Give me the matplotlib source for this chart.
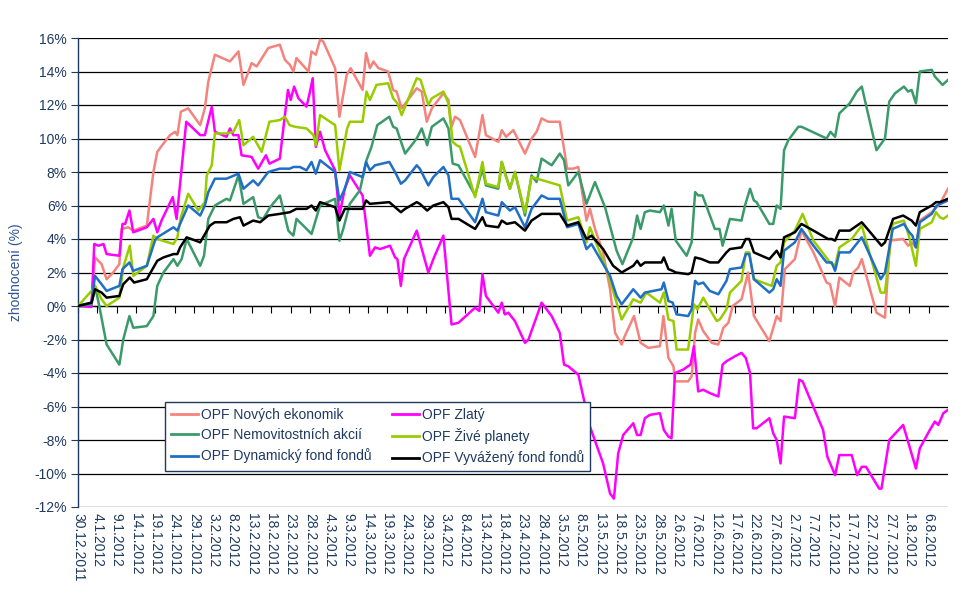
import numpy as np
import pandas as pd
import matplotlib
matplotlib.use("Agg")
import matplotlib.pyplot as plt

plt.rcParams['font.family'] = ['Liberation Sans', 'DejaVu Sans']

# x values: days since 30.12.2011
nove_days = [0, 3.5, 4.4, 6.1, 7.4, 9.1, 10.7, 11.3, 13.0, 14.3, 17.8, 19.5, 20.5, 22.1, 23.8, 25.1, 25.7, 26.6,
             28.5, 31.6, 32.8, 33.7, 35.4, 39.3, 41.5, 42.8, 44.9, 46.2, 49.2, 52.2, 53.5, 54.8, 55.7, 56.5, 59.6,
             60.4, 61.5, 62.6, 63.4, 66.5, 67.6, 69.5, 70.5, 73.6, 74.5, 75.5, 76.4, 77.7, 80.2, 81.5, 82.4, 83.7,
             87.6, 88.9, 90.2, 91.5, 94.5, 95.8, 96.6, 97.5, 98.8, 102.7, 104.6, 105.5, 108.7, 109.6, 110.7, 112.6,
             115.6, 117.3, 118.6, 119.9, 121.6, 124.6, 126.5, 128.1, 129.4, 131.5, 132.4, 133.7, 135.8, 137.6, 138.9,
             140.6, 141.4, 143.8, 145.5, 147.5, 150.5, 151.4, 152.7, 154.0, 154.4, 157.8, 158.7, 159.6, 160.4, 161.7,
             163.9, 165.6, 166.9, 168.2, 169.3, 171.6, 173.3, 174.8, 178.8, 180.7, 181.7, 182.8, 185.4, 187.1, 190.2,
             193.6, 194.5, 195.8, 196.9, 199.6, 200.5, 201.8, 202.7, 206.5, 208.7, 210.0, 213.4, 214.7, 215.6, 216.7,
             217.7, 220.8, 222.9, 225.0]
nove_vals = [0, 0.1, 2.9, 2.5, 1.6, 2.0, 2.5, 4.6, 4.7, 4.5, 4.8, 8.0, 9.2, 9.7, 10.2, 10.4, 10.2, 11.6,
             11.8, 10.8, 11.8, 13.4, 15.0, 14.6, 15.2, 13.2, 14.5, 14.3, 15.4, 15.6, 14.7, 14.4, 14.0, 14.8, 14.0,
             15.2, 15.0, 15.9, 15.8, 14.2, 11.3, 13.8, 14.2, 12.9, 15.1, 14.2, 14.6, 14.2, 14.0, 12.9, 12.8, 11.8,
             13.0, 12.8, 11.0, 11.8, 12.7, 12.3, 10.7, 11.3, 11.1, 8.9, 11.4, 10.2, 9.8, 10.5, 10.1, 10.5,
             9.1, 10.0, 10.4, 11.2, 11.0, 11.0, 8.2, 8.2, 8.3, 5.1, 5.8, 4.6, 3.2, 1.0, -1.6,
             -2.3, -1.8, -0.6, -2.2, -2.5, -2.4, -0.6, -3.1, -3.6, -4.5, -4.5, -4.2, -1.6, -0.8, -1.5,
             -2.2, -2.3, -1.3, -1.0, 0.0, 0.4, 2.0, -0.6, -2.1, -0.6, -0.9, 2.2, 2.8, 4.5, 3.2,
             1.4, 1.3, 0.0, 1.7, 1.2, 2.0, 2.3, 2.8, -0.4, -0.7, 3.9, 4.0, 3.6, 3.8, 3.5,
             5.1, 5.6, 6.1, 7.0]

zlaty_days = [0, 3.5, 4.2, 5.3, 6.6, 7.4, 10.7, 11.5, 12.2, 13.3, 14.3, 17.8, 19.5, 20.5, 21.6, 24.5, 25.5, 28.0,
              31.6, 32.8, 34.6, 35.4, 38.4, 39.3, 40.2, 41.5, 42.3, 44.9, 46.6, 48.6, 49.5, 52.2, 53.1, 54.3, 55.0,
              55.9, 57.0, 59.1, 60.0, 60.7, 61.5, 62.6, 63.9, 66.5, 67.6, 69.0, 70.3, 73.6, 75.5, 76.8, 78.1, 80.7,
              82.0, 82.6, 83.5, 84.3, 87.6, 90.6, 91.9, 94.5, 96.6, 98.4, 102.7, 103.8, 104.6, 105.5, 108.7, 109.6,
              110.4, 111.3, 113.0, 115.6, 116.5, 119.9, 122.5, 124.6, 125.7, 126.8, 129.4, 132.4, 135.8, 137.6, 138.6,
              139.7, 141.0, 143.6, 144.6, 145.5, 146.6, 147.9, 150.5, 151.5, 152.7, 153.5, 154.4, 156.5, 158.4, 159.3,
              160.4, 161.7, 163.4, 165.6, 166.7, 167.7, 169.9, 171.6, 172.7, 173.8, 174.6, 175.5, 178.8, 179.8, 180.7,
              181.7, 182.6, 185.4, 186.5, 187.4, 192.7, 193.8, 195.8, 196.9, 200.1, 201.5, 202.7, 203.8, 207.2, 207.8,
              209.8, 213.4, 216.7, 217.7, 220.3, 221.6, 222.5, 223.8, 225.0]
zlaty_vals = [0, -0.05, 3.7, 3.6, 3.7, 3.1, 3.0, 4.9, 4.9, 5.7, 4.4, 4.7, 5.2, 4.4, 5.1, 6.5, 5.2, 11.0,
              10.2, 10.2, 11.9, 10.4, 10.1, 10.6, 10.2, 10.2, 9.0, 8.9, 8.2, 9.0, 8.5, 8.8, 10.6, 12.9, 12.3,
              13.1, 12.4, 11.9, 12.8, 13.6, 9.5, 10.4, 9.3, 8.1, 5.4, 7.0, 7.8, 6.6, 3.0, 3.5, 3.4, 3.6,
              2.9, 2.8, 1.2, 2.8, 4.5, 2.0, 2.8, 4.2, -1.1, -1.0, -0.1, -0.3, 1.9, 0.6, -0.4, 0.2,
              -0.5, -0.4, -0.9, -2.2, -2.0, 0.2, -0.6, -1.6, -3.5, -3.6, -4.1, -7.2, -9.4, -11.2, -11.5,
              -8.8, -7.7, -7.0, -7.7, -7.7, -6.7, -6.5, -6.4, -7.4, -7.8, -7.9, -4.0, -3.8, -3.5, -2.4,
              -5.1, -5.0, -5.2, -5.4, -3.5, -3.3, -3.0, -2.8, -3.1, -4.0, -7.3, -7.3, -6.7, -7.6, -8.0,
              -9.4, -6.6, -6.7, -4.4, -4.5, -7.4, -9.0, -10.1, -8.9, -8.9, -10.1, -9.6, -9.6, -10.9, -10.9,
              -8.0, -7.1, -9.7, -8.5, -7.4, -6.9, -7.1, -6.4, -6.2]

nemo_days = [0, 3.5, 4.4, 5.5, 7.4, 10.7, 11.7, 13.3, 14.3, 17.8, 19.5, 20.5, 22.1, 24.7, 25.7, 26.8,
             28.1, 31.6, 32.6, 33.7, 35.4, 38.4, 39.3, 41.5, 42.8, 45.3, 46.6, 47.9, 49.7, 52.2, 54.4,
             55.7, 56.5, 58.7, 60.4, 62.6, 66.5, 67.6, 68.6, 70.3, 72.9, 74.6, 75.9, 77.4, 80.5, 81.5, 82.4, 83.7,
             84.6, 87.6, 88.9, 90.3, 91.5, 94.5, 95.8, 96.9, 98.4, 102.7, 104.6, 105.5, 108.7, 109.6, 111.7,
             113.0, 115.6, 117.3, 118.6, 119.9, 122.5, 124.6, 125.7, 126.8, 129.4, 131.5, 133.7, 136.3, 139.3, 140.8,
             143.6, 144.6, 145.5, 146.6, 147.9, 150.5, 151.5, 152.7, 153.5, 154.6, 157.4, 158.7, 159.6, 160.4, 161.5,
             164.7, 165.9, 166.7, 168.6, 171.6, 172.5, 173.8, 174.8, 175.5, 178.8, 179.8, 180.7, 181.7, 182.6, 183.7,
             186.3, 187.1, 193.6, 194.6, 195.8, 196.9, 199.6, 201.4, 202.7, 206.5, 208.7, 209.8, 211.3, 213.6, 214.7,
             215.6, 216.7, 217.7, 220.8, 221.6, 223.6, 225.0]
nemo_vals = [0, 0.1, 1.2, 0.0, -2.3, -3.5, -2.0, -0.6, -1.3, -1.2, -0.6, 1.2, 2.0, 2.8, 2.4, 2.8,
             4.0, 2.4, 3.0, 5.2, 6.0, 6.4, 6.3, 7.8, 6.1, 6.5, 5.3, 5.2, 5.9, 6.6, 4.5,
             4.2, 5.2, 4.7, 4.3, 6.0, 6.4, 3.9, 4.6, 6.1, 6.9, 8.7, 9.5, 10.8, 11.3, 10.7, 10.6, 9.7,
             9.1, 10.0, 10.6, 9.6, 10.7, 11.2, 10.6, 8.5, 8.4, 6.6, 8.2, 7.2, 7.0, 8.6, 7.0,
             8.0, 5.4, 7.8, 7.4, 8.8, 8.4, 9.1, 8.7, 7.2, 8.0, 6.1, 7.4, 5.9, 3.3, 2.5,
             4.1, 5.4, 4.6, 5.6, 5.7, 5.6, 6.0, 4.8, 5.8, 3.9, 3.0, 3.8, 6.8, 6.6, 6.6,
             4.6, 4.6, 3.6, 5.2, 5.1, 6.0, 7.0, 6.3, 6.2, 4.9, 4.9, 6.0, 5.8, 9.3, 9.9,
             10.7, 10.7, 10.0, 10.4, 10.1, 11.5, 12.1, 12.8, 13.1, 9.3, 10.0, 12.2, 12.7, 13.1, 12.8,
             12.9, 12.1, 14.0, 14.1, 13.7, 13.2, 13.5]

zive_days = [0, 3.5, 4.4, 6.1, 7.4, 10.7, 11.7, 13.4, 14.3, 17.8, 19.5, 20.5, 24.7, 25.7, 26.6,
             28.5, 31.1, 32.8, 33.3, 34.6, 35.4, 38.4, 40.2, 41.7, 42.8, 45.3, 47.5, 49.5, 52.2, 53.5, 54.7,
             56.1, 59.1, 60.9, 61.5, 62.6, 66.5, 67.6, 69.6, 70.3, 73.6, 74.6, 75.5, 77.2, 80.2, 81.5, 82.6, 83.7,
             87.6, 88.6, 90.6, 91.5, 94.5, 95.8, 96.9, 97.9, 98.8, 102.7, 104.6, 105.5, 108.7, 109.6, 110.4, 111.7,
             113.0, 115.6, 117.3, 124.6, 126.5, 129.4, 131.5, 132.4, 136.7, 138.9, 140.6,
             143.6, 145.5, 147.0, 150.5, 151.5, 152.7, 154.0, 154.8, 157.8, 159.3, 160.2, 161.7, 163.4, 165.2,
             166.0, 167.7, 168.6, 171.6, 172.7, 173.6, 174.8, 179.4, 180.7, 181.7, 182.6, 185.4, 187.4, 190.2,
             194.5, 195.8, 196.9, 200.1, 202.7, 207.6, 208.7, 210.7, 213.6, 215.0, 216.7, 217.7, 220.8, 221.9,
             222.9, 223.8, 225.0]
zive_vals = [0, 0.9, 1.2, 0.4, 0.0, 0.5, 2.3, 3.6, 1.8, 2.4, 4.2, 4.0, 3.7, 4.1, 5.3,
             6.7, 5.7, 6.2, 7.8, 8.4, 10.3, 10.3, 10.4, 11.1, 9.6, 10.1, 9.2, 11.0, 11.1, 11.3, 10.8,
             10.7, 10.6, 10.2, 9.6, 11.4, 10.8, 8.1, 10.6, 11.0, 11.0, 12.8, 12.3, 13.2, 13.3, 12.4, 12.1, 11.4,
             13.6, 13.5, 12.0, 12.4, 12.8, 12.1, 9.8, 9.6, 9.5, 6.5, 8.6, 7.3, 7.1, 8.6, 7.9, 7.0,
             8.0, 5.6, 7.7, 7.2, 5.1, 5.3, 3.8, 4.7, 2.2, 0.5, -0.8,
             0.4, 0.2, 0.8, 0.2, 0.8, -0.8, -0.9, -2.6, -2.6, 0.1, -0.2, 0.5, -0.2, -0.9,
             -0.8, -0.2, 0.8, 1.5, 3.2, 3.2, 1.6, 1.2, 2.4, 2.6, 3.8, 4.5, 5.5, 3.9,
             2.6, 2.4, 3.5, 4.0, 4.8, 0.8, 0.8, 4.9, 5.1, 4.1, 2.4, 4.6, 5.0, 5.6,
             5.3, 5.2, 5.4]

dyn_days = [0, 3.5, 4.4, 6.1, 7.4, 10.7, 11.5, 13.3, 14.3, 17.8, 19.9, 20.5, 24.7, 25.7, 26.4,
            28.5, 31.6, 32.8, 33.7, 35.4, 38.4, 41.5, 42.8, 45.3, 46.6, 49.2, 52.2, 54.8,
            55.7, 57.4, 59.1, 60.4, 61.5, 62.6, 66.5, 67.6, 69.0, 70.3, 73.6, 74.5, 75.5, 76.8, 80.5, 82.0, 83.5,
            84.6, 87.6, 88.4, 90.6, 91.9, 94.5, 95.8, 96.6, 98.4, 102.7, 104.6, 105.5, 108.7, 109.6, 111.7,
            113.0, 115.6, 117.3, 119.9, 121.6, 124.6, 126.5, 129.4, 131.5, 132.8, 137.6, 139.3, 140.6,
            143.6, 145.5, 146.6, 150.9, 151.5, 152.7, 153.8, 154.8, 157.8, 158.7, 159.6, 160.4, 161.7, 163.4,
            165.6, 167.7, 168.6, 171.6, 172.7, 173.6, 174.8, 178.8, 179.8, 180.7, 181.7, 182.6, 185.4, 187.1,
            190.2, 193.6, 194.9, 195.8, 196.9, 199.6, 202.7, 207.6, 208.7, 210.7, 213.6, 215.0, 215.8, 216.7,
            217.7, 220.8, 222.1, 225.0]
dyn_vals = [0, 0.2, 1.8, 1.3, 0.9, 1.2, 2.2, 2.6, 2.1, 2.4, 3.9, 4.1, 4.7, 4.5, 4.9,
            6.0, 5.4, 6.0, 6.8, 7.6, 7.6, 7.9, 7.0, 7.5, 7.2, 8.0, 8.2, 8.2,
            8.3, 8.3, 8.1, 8.6, 7.9, 8.7, 8.0, 6.3, 7.0, 8.0, 7.7, 8.6, 8.1, 8.4, 8.6, 8.0, 7.3,
            7.5, 8.4, 8.2, 7.2, 7.7, 8.3, 7.8, 6.4, 6.4, 5.0, 6.4, 5.6, 5.4, 6.2, 5.7,
            5.9, 4.7, 5.8, 6.6, 6.4, 6.4, 4.7, 4.9, 3.4, 3.7, 1.8, 0.6, 0.1,
            1.0, 0.5, 0.8, 1.0, 1.4, 0.3, 0.2, -0.5, -0.6, -0.2, 1.5, 1.3, 1.4, 0.9,
            0.7, 1.5, 2.2, 2.3, 3.1, 3.1, 1.6, 0.8, 1.0, 1.6, 1.2, 3.3, 3.8, 4.6,
            3.6, 2.6, 2.6, 2.1, 3.2, 3.2, 4.1, 1.6, 2.0, 4.6, 4.9, 4.4, 4.2, 3.5,
            5.0, 5.5, 6.0, 6.3]

vyv_days = [0, 3.5, 4.4, 6.1, 7.4, 10.7, 11.7, 13.4, 14.5, 17.8, 20.5, 22.1, 24.7, 25.7, 26.4,
            28.1, 31.6, 34.1, 35.4, 38.4, 40.2, 41.9, 42.8, 45.3, 47.1, 49.2, 52.2, 54.8,
            56.5, 59.1, 60.4, 61.5, 62.6, 66.5, 67.6, 69.0, 70.3, 73.6, 74.5, 75.5, 80.5, 82.0, 83.5,
            84.6, 87.6, 88.4, 90.3, 91.9, 94.5, 95.8, 96.6, 98.4, 102.7, 104.6, 105.5, 108.7, 109.6, 110.9, 113.0,
            115.6, 117.3, 119.9, 124.6, 126.5, 129.4, 131.5, 132.8, 135.8, 138.4, 140.6,
            143.6, 144.6, 145.5, 146.6, 150.9, 151.5, 152.7, 153.8, 154.6, 157.8, 158.7, 159.6, 161.3, 163.4,
            165.6, 167.7, 168.6, 171.6, 172.7, 173.6, 174.8, 178.8, 180.7, 181.7, 182.6, 185.4, 187.1, 190.2,
            194.0, 194.9, 195.8, 196.9, 199.6, 202.7, 207.8, 208.7, 210.8, 213.4, 215.6, 216.7, 217.7, 220.8,
            221.9, 222.9, 225.0]
vyv_vals = [0, 0.2, 1.0, 0.8, 0.5, 0.6, 1.3, 1.7, 1.4, 1.6, 2.7, 2.9, 3.1, 3.1, 3.5,
            4.1, 3.8, 4.8, 5.0, 5.0, 5.2, 5.3, 4.8, 5.1, 5.0, 5.4, 5.5, 5.6,
            5.8, 5.8, 6.0, 5.7, 6.2, 5.9, 5.1, 5.8, 5.8, 5.8, 6.3, 6.1, 6.2, 5.9, 5.6,
            5.8, 6.2, 6.1, 5.7, 6.0, 6.2, 5.9, 5.2, 5.2, 4.6, 5.3, 4.8, 4.7, 5.1, 4.9, 5.0,
            4.5, 5.1, 5.5, 5.5, 4.8, 5.0, 4.0, 4.2, 3.4, 2.4, 2.0,
            2.4, 2.7, 2.4, 2.6, 2.6, 2.9, 2.2, 2.1, 2.0, 1.9, 2.0, 2.9, 2.8, 2.6,
            2.6, 3.2, 3.4, 3.5, 4.0, 4.0, 3.2, 2.8, 3.3, 2.9, 4.1, 4.4, 4.9, 4.5,
            4.0, 4.0, 3.9, 4.5, 4.5, 5.0, 3.6, 3.8, 5.2, 5.4, 5.1, 4.8, 5.6, 6.0,
            6.2, 6.2, 6.4]

series_names = ["OPF Nových ekonomik", "OPF Zlatý", "OPF Nemovitostních akcií",
                "OPF Živé planety", "OPF Dynamický fond fondů", "OPF Vyvážený fond fondů"]
series_colors = ["#F4837D", "#FF00FF", "#3A9A6A", "#99CC00", "#1F6FC5", "#000000"]

start_date = pd.Timestamp("2011-12-30")
tick_dates = pd.date_range(start_date, periods=45, freq="5D")
tick_labels = [f"{d.day}.{d.month}.{d.year}" for d in tick_dates]
tick_pos = [(d - start_date).days for d in tick_dates]

navy = "#1F3A60"

fig = plt.figure(figsize=(9.65, 5.98), dpi=100)
ax = fig.add_axes([78/965, 1-507/598, 870/965, 469/598])

data = [(nove_days, nove_vals), (zlaty_days, zlaty_vals), (nemo_days, nemo_vals),
        (zive_days, zive_vals), (dyn_days, dyn_vals), (vyv_days, vyv_vals)]
lines = []
for (d, v), name, c in zip(data, series_names, series_colors):
    ln, = ax.plot(d, v, color=c, lw=1.8, label=name, zorder=3, solid_joinstyle='round')
    lines.append(ln)

ax.set_xlim(0, 225)
ax.set_ylim(-12, 16)
ax.set_yticks(np.arange(-12, 17, 2))
ax.set_yticklabels([f"{v}%" for v in range(-12, 17, 2)])
ax.yaxis.grid(True, color="black", lw=0.9)
ax.set_axisbelow(True)

ax.set_xticks(tick_pos)
ax.set_xticklabels(tick_labels, rotation=-90, ha="center", va="top")
ax.tick_params(axis="x", length=0, pad=4, labelsize=10, labelcolor=navy)
ax.tick_params(axis="y", direction="out", length=5, color=navy, labelsize=10, labelcolor=navy, pad=3)

for s in ["top", "right", "bottom"]:
    ax.spines[s].set_visible(False)
ax.spines["left"].set_color(navy)
ax.spines["left"].set_linewidth(1.0)

sec = ax.secondary_xaxis(12/28)
sec.set_xticks(tick_pos)
sec.tick_params(axis="x", direction="out", length=5, color="black", labelbottom=False)
sec.spines["bottom"].set_color("black")
sec.spines["bottom"].set_linewidth(0.9)

ax.set_ylabel("zhodnocení (%)", fontsize=10, color="#2F5597", labelpad=8)

# legend is filled column by column; order handles so rows read as in the original
order = [0, 2, 4, 1, 3, 5]
leg = ax.legend(handles=[lines[i] for i in order], ncol=2, loc="lower left",
                bbox_to_anchor=(87/870, 36/469, 425/870, 68/469), mode="expand",
                borderaxespad=0, frameon=True, fancybox=False, fontsize=10,
                handlelength=2.0, handletextpad=0.2, labelspacing=0.45, columnspacing=1.0)
leg.get_frame().set_edgecolor(navy)
leg.get_frame().set_linewidth(1.0)
leg.get_frame().set_alpha(1)
for h in leg.get_lines():
    h.set_linewidth(2.0)
for t in leg.get_texts():
    t.set_color(navy)

fig.savefig("out.png", dpi=100)
